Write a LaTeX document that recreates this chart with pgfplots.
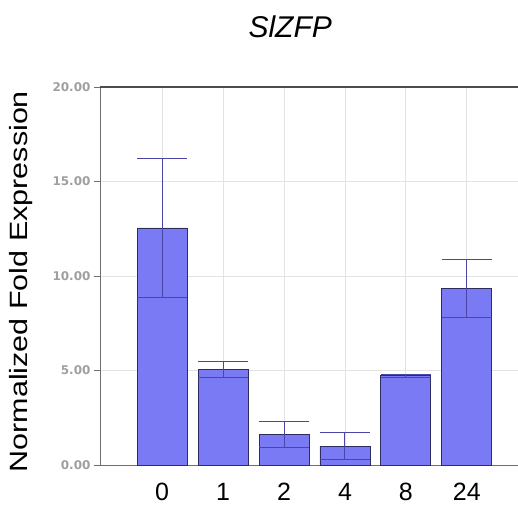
\documentclass[border=0pt]{standalone}
\usepackage{fontspec}
\setmainfont{Liberation Sans}
\newfontfamily\tickfont{DejaVu Sans}
\usepackage{pgfplots}
\pgfplotsset{compat=1.18}
\definecolor{barfill}{RGB}{122,122,245}
\definecolor{bardraw}{RGB}{45,45,95}
\definecolor{errcol}{RGB}{75,70,165}
\definecolor{axgrey}{RGB}{110,110,110}
\begin{document}
\begin{tikzpicture}
\useasboundingbox (-100pt,-40pt) rectangle (418pt,465pt);
\begin{axis}[
  at={(0,0)}, anchor=south west,
  scale only axis, width=418pt, height=378pt,
  xmin=-1.02, xmax=5.84, ymin=0, ymax=20,
  axis x line*=bottom, axis y line*=left,
  axis line style={-, draw=axgrey, line width=0.9pt},
  xtick={0,...,5}, xticklabels={0,1,2,4,8,24},
  ytick={0,5,...,20},
  xtick style={draw=none},
  ytick style={draw=axgrey, line width=0.8pt},
  tick align=outside, major tick length=6pt,
  xmajorgrids, ymajorgrids,
  grid style={gray!22, line width=0.8pt},
  xticklabel style={font=\fontsize{25}{29}\selectfont, text=black, yshift=-9pt},
  yticklabel style={font=\tickfont\bfseries\fontsize{12}{14}\selectfont, text=gray!75,
    /pgf/number format/.cd, fixed, fixed zerofill, precision=2, assume math mode=true},
  ylabel={Normalized Fold Expression},
  every axis y label/.style={at={(axis description cs:-0.19,0.485)}, rotate=90, xscale=1.22,
    anchor=center, font=\fontsize{25}{29}\selectfont},
  title={\itshape SlZFP},
  title style={at={(axis description cs:0.455,1)}, anchor=base, yshift=43pt,
    font=\fontsize{30}{34}\selectfont},
]
\addplot[ybar, bar width=50pt, fill=barfill, draw=bardraw, line width=0.8pt,
  error bars/.cd, y dir=both, y explicit,
  error bar style={errcol, line width=1pt},
  error mark options={errcol, rotate=90, mark size=25pt, line width=1pt}]
  coordinates {
  (0,12.54) +- (0,3.70)
  (1,5.05)  +- (0,0.40)
  (2,1.62)  +- (0,0.70)
  (3,1.00)  +- (0,0.70)
  (4,4.72)  +- (0,0.08)
  (5,9.36)  +- (0,1.53)
  };
\draw[line width=1.6pt, gray!60!black] (rel axis cs:0,1) -- (rel axis cs:1,1);
\end{axis}
\end{tikzpicture}
\end{document}
